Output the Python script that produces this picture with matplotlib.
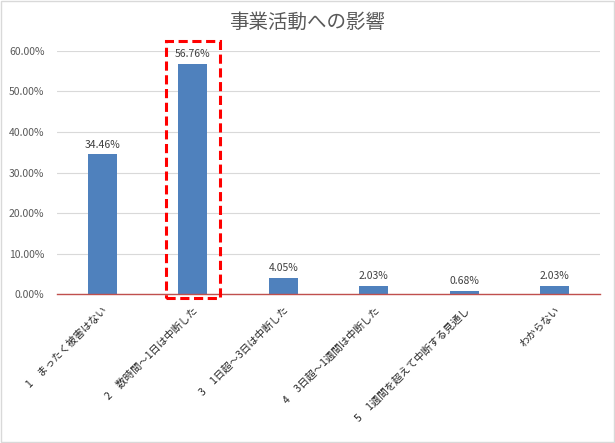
import matplotlib
matplotlib.use('Agg')
import matplotlib.pyplot as plt
from matplotlib.patches import Rectangle
from matplotlib.ticker import FuncFormatter

plt.rcParams['font.family'] = ['Noto Sans CJK JP', 'DejaVu Sans']

# データ
categories = ['1　まったく被害はない', '2　数時間～1日は中断した', '3　1日超～3日は中断した',
              '4　3日超～1週間は中断した', '5　1週間を超えて中断する見通し', 'わからない']
values = [0.3446, 0.5676, 0.0405, 0.0203, 0.0068, 0.0203]
highlight = 1

fig = plt.figure(figsize=(6.15, 4.43), dpi=100)
ax = fig.add_axes([0.0927, 0.3363, 0.8829, 0.5486])

x = range(len(categories))
ax.bar(x, values, width=0.32, color='#4F81BD', zorder=3)
for i, v in zip(x, values):
    ax.text(i, v + 0.012, '{:.2f}%'.format(v * 100), ha='center', va='bottom',
            fontsize=7.5, color='#404040')

ax.set_xlim(-0.5, len(categories) - 0.5)
ax.set_ylim(0, 0.6)
ax.set_yticks([0, 0.1, 0.2, 0.3, 0.4, 0.5, 0.6])
ax.yaxis.set_major_formatter(FuncFormatter(lambda v, p: '{:.2f}%'.format(v * 100)))
ax.grid(axis='y', color='#D9D9D9', linewidth=0.8, zorder=0)
for s in ['top', 'right', 'left']:
    ax.spines[s].set_visible(False)
ax.spines['bottom'].set_color('#C0504D')
ax.spines['bottom'].set_linewidth(1.0)
ax.spines['bottom'].set_zorder(4)
ax.tick_params(axis='both', length=0, labelsize=7.5, colors='#595959')
ax.tick_params(axis='y', pad=9)
ax.set_xticks(list(x))
ax.set_xticklabels(categories, rotation=45, ha='right', rotation_mode='anchor',
                   fontsize=7.5, color='#262626')
ax.tick_params(axis='x', pad=8)

# 強調枠
box = Rectangle((highlight - 0.3, -0.01), 0.6, 0.635, fill=False, edgecolor='#FF0000',
                linewidth=2.2, linestyle=(0, (3, 1.5)), clip_on=False, zorder=5)
ax.add_patch(box)

fig.text(0.5, 0.95, '事業活動への影響', ha='center', va='center', fontsize=14, color='#595959')

# 外枠
fig.patches.append(Rectangle((0.002, 0.002), 0.996, 0.996, transform=fig.transFigure,
                             fill=False, edgecolor='#D9D9D9', linewidth=1))

fig.savefig('out.png', dpi=100)
